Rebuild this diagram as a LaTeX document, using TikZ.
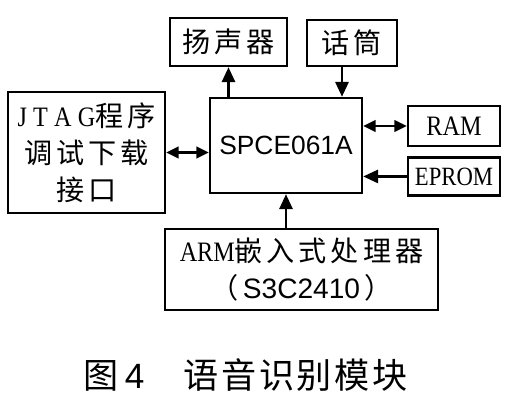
\documentclass[tikz,border=0pt]{standalone}
\usepackage{fontspec}
\setmainfont{Liberation Serif}[FakeStretch=0.86]
\setsansfont{Liberation Sans}
\newfontfamily\cjk[LetterSpace=14]{Noto Sans CJK SC}
\newfontfamily\capfont[LetterSpace=8]{Noto Sans CJK SC}
\newfontfamily\spacedrm[LetterSpace=22,FakeStretch=0.86,Kerning=Off]{Liberation Serif}
\usepackage{tikz}
\usetikzlibrary{
    arrows.meta,
    positioning
}
\tikzset{
    block/.style={
        rectangle, draw=black, line width=1.4pt,
        inner sep=1pt, align=center,
        font=\fontsize{16}{21}\selectfont
    },
    sig/.style={
        -{Triangle[length=8.5pt, width=7.5pt]}, line width=1.4pt
    },
    bus/.style={
        {Triangle[length=7pt, width=6.5pt]}-{Triangle[length=7pt, width=6.5pt]}, line width=1.4pt
    },
}

\begin{document}
\begin{tikzpicture}
    \useasboundingbox (0,0) rectangle (10.32,-8);

    \node[block, minimum width=3.04cm, minimum height=1.90cm, font=\sffamily\fontsize{15}{18}\selectfont] (spce) at (5.72,-2.91) {SPCE061A};
    \node[block, minimum width=2.34cm, minimum height=0.96cm] (spk) at (4.57,-0.84) {\cjk 扬声器};
    \node[block, minimum width=1.80cm, minimum height=0.92cm] (mic) at (7.04,-0.86) {\cjk 话筒};
    \node[block, minimum width=3.14cm, minimum height=2.42cm] (jtag) at (1.73,-3.05)
        {{\spacedrm JTAG}{\cjk 程序}\\{\cjk 调试下载}\\{\cjk 接口}};
    \node[block, minimum width=1.84cm, minimum height=0.80cm] (ram) at (9.08,-2.52) {RAM};
    \node[block, minimum width=1.84cm, minimum height=0.76cm, below=0.18cm of ram,
        font=\fontsize{15}{18}\selectfont] (eprom) {EPROM};
    \node[block, minimum width=5.46cm, minimum height=1.62cm] (arm) at (6.03,-5.39)
        {ARM{\cjk 嵌入式处理器}\\{\cjk （}{\sffamily\,S3C2410\,}{\cjk ）}};

    % caption
    \node[font=\fontsize{20}{24}\selectfont] (cap) at (4.92,-7.5)
        {{\capfont 图}\,{\sffamily 4}\hspace{22pt}{\capfont 语音识别模块}};

    \draw[sig] (spk.south |- spce.north) -- (spk.south);
    \draw[sig] ([xshift=-0.2cm]mic.south) -- ([xshift=-0.2cm]mic.south |- spce.north);
    \draw[sig] (arm.north -| spce.south) -- (spce.south);
    \draw[sig] (eprom.west) -- (eprom.west -| spce.east);
    \draw[bus] (ram.west) -- (ram.west -| spce.east);
    \draw[bus] (jtag.east) -- (jtag.east -| spce.west);
\end{tikzpicture}
\end{document}
